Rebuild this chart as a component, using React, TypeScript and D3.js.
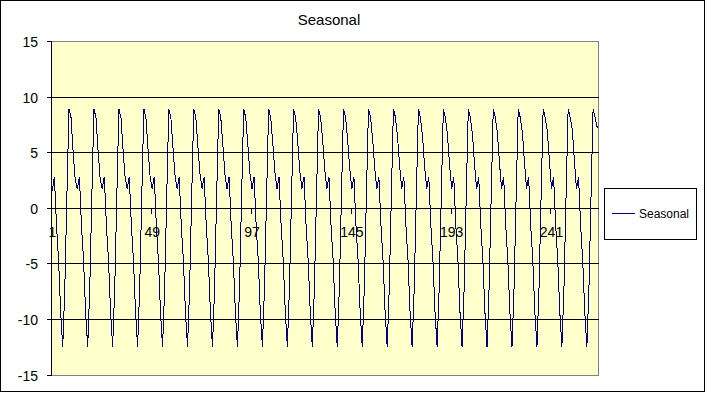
import * as d3 from "d3";

const title = "Seasonal";
const seriesName = "Seasonal";
const yTicks = [-15, -10, -5, 0, 5, 10, 15];
const xTickLabels = [1, 49, 97, 145, 193, 241];

// seasonal component (one row per year)
const seasonal: number[] = [
  1.5, 2.8, -1.6, -4.7, -9.4, -12.5, -7.2, 1.0, 8.9, 8.1, 5.0, 2.5,
  1.7, 2.8, -1.6, -4.7, -9.4, -12.5, -7.2, 1.0, 8.9, 8.1, 5.1, 2.6,
  1.7, 2.8, -1.6, -4.7, -9.4, -12.5, -7.2, 1.0, 8.9, 8.1, 5.2, 2.7,
  1.7, 2.8, -1.6, -4.7, -9.4, -12.5, -7.2, 1.0, 8.9, 8.1, 5.3, 2.8,
  1.7, 2.8, -1.6, -4.7, -9.4, -12.5, -7.2, 1.0, 8.9, 8.1, 5.4, 2.9,
  1.7, 2.8, -1.6, -4.7, -9.4, -12.5, -7.2, 1.0, 8.9, 8.1, 5.5, 3.0,
  1.7, 2.8, -1.6, -4.7, -9.4, -12.5, -7.2, 1.0, 8.9, 8.1, 5.6, 3.0,
  1.7, 2.8, -1.6, -4.7, -9.4, -12.5, -7.2, 1.0, 8.9, 8.1, 5.7, 3.1,
  1.7, 2.8, -1.6, -4.7, -9.4, -12.5, -7.2, 1.0, 8.9, 8.1, 5.8, 3.2,
  1.7, 2.8, -1.6, -4.7, -9.4, -12.5, -7.2, 1.0, 8.9, 8.1, 5.9, 3.3,
  1.7, 2.8, -1.6, -4.7, -9.4, -12.5, -7.2, 1.0, 8.9, 8.1, 6.0, 3.4,
  1.7, 2.8, -1.6, -4.7, -9.4, -12.5, -7.2, 1.0, 8.9, 8.1, 6.1, 3.5,
  1.7, 2.8, -1.6, -4.7, -9.4, -12.5, -7.2, 1.0, 8.9, 8.1, 6.2, 3.6,
  1.7, 2.8, -1.6, -4.7, -9.4, -12.5, -7.2, 1.0, 8.9, 8.1, 6.3, 3.7,
  1.7, 2.8, -1.6, -4.7, -9.4, -12.5, -7.2, 1.0, 8.9, 8.1, 6.4, 3.7,
  1.7, 2.8, -1.6, -4.7, -9.4, -12.5, -7.2, 1.0, 8.9, 8.1, 6.5, 3.8,
  1.7, 2.8, -1.6, -4.7, -9.4, -12.5, -7.2, 1.0, 8.9, 8.1, 6.6, 3.9,
  1.7, 2.8, -1.6, -4.7, -9.4, -12.5, -7.2, 1.0, 8.9, 8.1, 6.7, 4.0,
  1.7, 2.8, -1.6, -4.7, -9.4, -12.5, -7.2, 1.0, 8.9, 8.1, 6.8, 4.1,
  1.7, 2.8, -1.6, -4.7, -9.4, -12.5, -7.2, 1.0, 8.9, 8.1, 6.9, 4.2,
  1.7, 2.8, -1.6, -4.7, -9.4, -12.5, -7.2, 1.0, 8.9, 8.1, 7.0, 4.3,
  1.7, 2.8, -1.6, -4.7, -9.4, -12.5, -7.2, 1.0, 8.9, 8.1, 7.2,
];

const categories = d3.range(1, seasonal.length + 1);

const W = 706;
const H = 393;
const plot = { left: 51.3, right: 598.3, top: 41, bottom: 374.5 };
const font = "Arial, 'Liberation Sans', sans-serif";

export default function App() {
  const x = d3
    .scaleBand<number>()
    .domain(categories)
    .range([plot.left, plot.right])
    .paddingInner(0)
    .paddingOuter(0);
  const bw = x.bandwidth();
  const cx = (c: number) => (x(c) ?? 0) + bw / 2;

  const y = d3.scaleLinear().domain([-15, 15]).range([plot.bottom, plot.top]);
  const cy = (v: number) => Math.round(y(v)) + 0.5;

  const line = d3
    .line<number>()
    .x((_, i) => cx(categories[i]))
    .y((d) => y(d));

  const axisY = cy(0);
  const left = Math.round(plot.left) + 0.5;
  const right = Math.round(plot.right) + 0.5;

  return (
    <svg
      width={W}
      height={H}
      style={{ position: "absolute", left: 0, top: 0, background: "#fff" }}
    >
      <rect x={0.5} y={0.5} width={704} height={391} fill="#fff" stroke="#000" />

      <text x={329} y={25} textAnchor="middle" fontFamily={font} fontSize={15}>
        {title}
      </text>

      <rect
        x={left}
        y={cy(15)}
        width={right - left}
        height={cy(-15) - cy(15)}
        fill="#ffffcc"
        stroke="#808080"
        shapeRendering="crispEdges"
      />

      {yTicks
        .filter((t) => t !== 15 && t !== -15)
        .map((t) => (
          <line
            key={"g" + t}
            x1={left}
            x2={right}
            y1={cy(t)}
            y2={cy(t)}
            stroke="#000"
            shapeRendering="crispEdges"
          />
        ))}

      <line
        x1={left}
        x2={left}
        y1={cy(15)}
        y2={cy(-15)}
        stroke="#000"
        shapeRendering="crispEdges"
      />
      {yTicks.map((t) => (
        <g key={"y" + t}>
          <line
            x1={left - 5}
            x2={left}
            y1={cy(t)}
            y2={cy(t)}
            stroke="#000"
            shapeRendering="crispEdges"
          />
          <text
            x={38}
            y={cy(t)}
            dy="0.36em"
            textAnchor="end"
            fontFamily={font}
            fontSize={14}
          >
            {t}
          </text>
        </g>
      ))}

      <path
        d={line(seasonal) ?? ""}
        fill="none"
        stroke="#000080"
        strokeWidth={1}
        shapeRendering="crispEdges"
      />

      {xTickLabels.map((c) => (
        <g key={"x" + c}>
          {c > 1 && (
            <line
              x1={Math.round(x(c) ?? 0) + 0.5}
              x2={Math.round(x(c) ?? 0) + 0.5}
              y1={axisY}
              y2={axisY + 5}
              stroke="#000"
              shapeRendering="crispEdges"
            />
          )}
          <text
            x={cx(c)}
            y={237}
            textAnchor="middle"
            fontFamily={font}
            fontSize={14}
          >
            {c}
          </text>
        </g>
      ))}

      <rect
        x={604.5}
        y={188.5}
        width={92}
        height={51}
        fill="#fff"
        stroke="#000"
        shapeRendering="crispEdges"
      />
      <line
        x1={612}
        x2={635}
        y1={213.5}
        y2={213.5}
        stroke="#000080"
        shapeRendering="crispEdges"
      />
      <text x={639} y={217.5} fontFamily={font} fontSize={12}>
        {seriesName}
      </text>
    </svg>
  );
}
